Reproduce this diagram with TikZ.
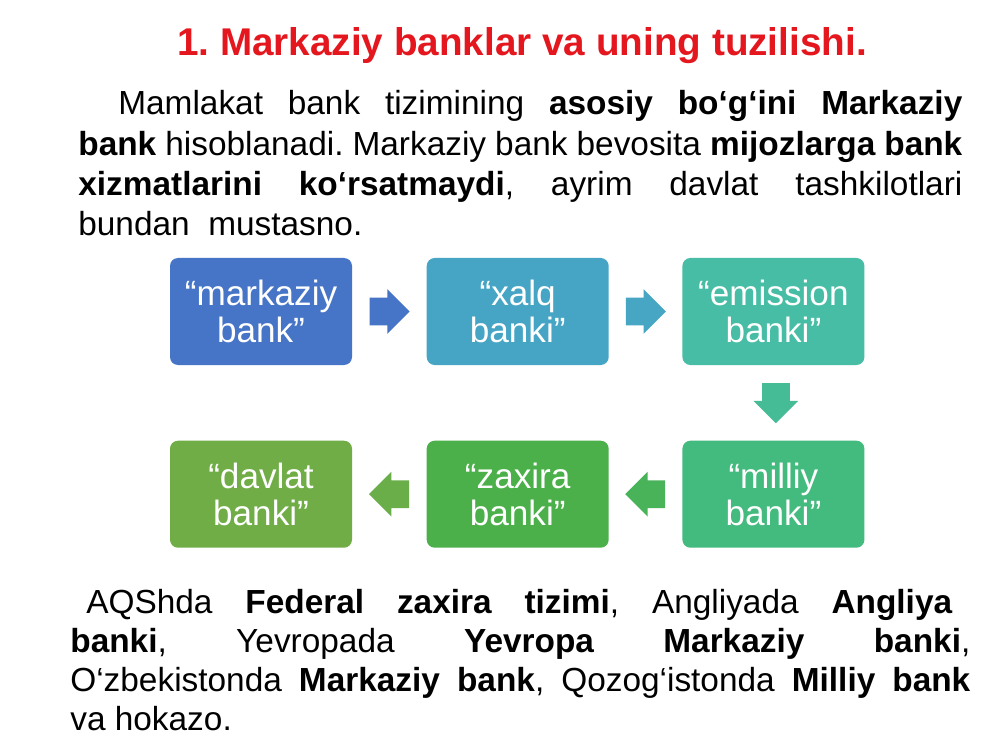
\documentclass[tikz,border=0pt]{standalone}
\usepackage{fontspec}
\setmainfont{Liberation Sans}
\usetikzlibrary{positioning,shapes.arrows,calc}

\definecolor{titlered}{RGB}{228,22,30}
\definecolor{markazc}{RGB}{70,116,198}
\definecolor{xalqc}{RGB}{70,165,197}
\definecolor{emissc}{RGB}{70,189,164}
\definecolor{milliyc}{RGB}{67,186,126}
\definecolor{zaxirac}{RGB}{75,176,74}
\definecolor{davlatc}{RGB}{112,173,71}

% one justified line of the given width
\newcommand{\fullline}[2][\linewidth]{{\spaceskip=0pt\xspaceskip=0pt\makebox[#1][s]{#2}}}

\begin{document}
\frenchspacing
\begin{tikzpicture}[
	bankbox/.style={rounded corners=0.16cm, minimum width=3.64cm, minimum height=2.14cm,
		text=white, align=center, inner sep=0, font=\fontsize{20}{21.3}\selectfont},
	blockarrow/.style={single arrow, minimum height=0.8cm, minimum width=0.88cm,
		single arrow head extend=0.17cm, inner xsep=0, inner ysep=0.27cm, anchor=tail},
	bodytext/.style={anchor=base west, inner sep=0, align=justify}
	]
	\useasboundingbox [fill=white] (0,0) rectangle (20,15);
	%
	\node (title) [anchor=base, text=titlered, font=\fontsize{22}{26}\selectfont\bfseries]
		at (10.44,13.88) {1. Markaziy banklar va uning tuzilishi.};
	\node (intro) [bodytext, text width=17.68cm, font=\fontsize{19}{22.8}\selectfont] at (1.56,12.7) {%
		\hspace*{0.8cm}\fullline[16.88cm]{Mamlakat bank tizimining \textbf{asosiy bo‘g‘ini Markaziy}}\\
		\fullline{\textbf{bank} hisoblanadi. Markaziy bank bevosita \textbf{mijozlarga bank}}\\
		\fullline{\textbf{xizmatlarini ko‘rsatmaydi}, ayrim davlat tashkilotlari}\\
		bundan\ \ mustasno.};
	%
	\node (markaz) [bankbox, fill=markazc] at (5.22,8.77) {“markaziy\\bank”};
	\node (xalq) [bankbox, fill=xalqc, right=1.48cm of markaz] {“xalq\\banki”};
	\node (emiss) [bankbox, fill=emissc, right=1.46cm of xalq] {“emission\\banki”};
	\node (milliy) [bankbox, fill=milliyc, below=1.5cm of emiss] {“milliy\\banki”};
	\node (zaxira) [bankbox, fill=zaxirac, left=1.46cm of milliy] {“zaxira\\banki”};
	\node (davlat) [bankbox, fill=davlatc, left=1.48cm of zaxira] {“davlat\\banki”};
	%
	\node (a1) [blockarrow, fill=markazc] at ($(markaz.east)!0.5!(xalq.west)+(-0.4,0)$) {};
	\node (a2) [blockarrow, fill=xalqc!95!emissc] at ($(xalq.east)!0.5!(emiss.west)+(-0.4,0)$) {};
	\node (a3) [blockarrow, fill=emissc!60!milliyc, shape border rotate=270,
		inner xsep=0.27cm, inner ysep=0] at ($(emiss.south)!0.5!(milliy.north)+(0.05,0.4)$) {};
	\node (a4) [blockarrow, fill=milliyc!30!zaxirac, shape border rotate=180] at ($(milliy.west)!0.5!(zaxira.east)+(0.4,0)$) {};
	\node (a5) [blockarrow, fill=zaxirac!20!davlatc, shape border rotate=180] at ($(zaxira.west)!0.5!(davlat.east)+(0.4,0)$) {};
	%
	\node (outro) [bodytext, text width=18cm, font=\fontsize{19}{22.2}\selectfont] at (1.4,2.74) {%
		\hspace*{0.32cm}\fullline[17.32cm]{AQShda \textbf{Federal zaxira tizimi}, Angliyada \textbf{Angliya}}\\
		\fullline{\textbf{banki}, Yevropada \textbf{Yevropa Markaziy banki},}\\
		\fullline{O‘zbekistonda \textbf{Markaziy bank}, Qozog‘istonda \textbf{Milliy bank}}\\
		va hokazo.};
\end{tikzpicture}
\end{document}
